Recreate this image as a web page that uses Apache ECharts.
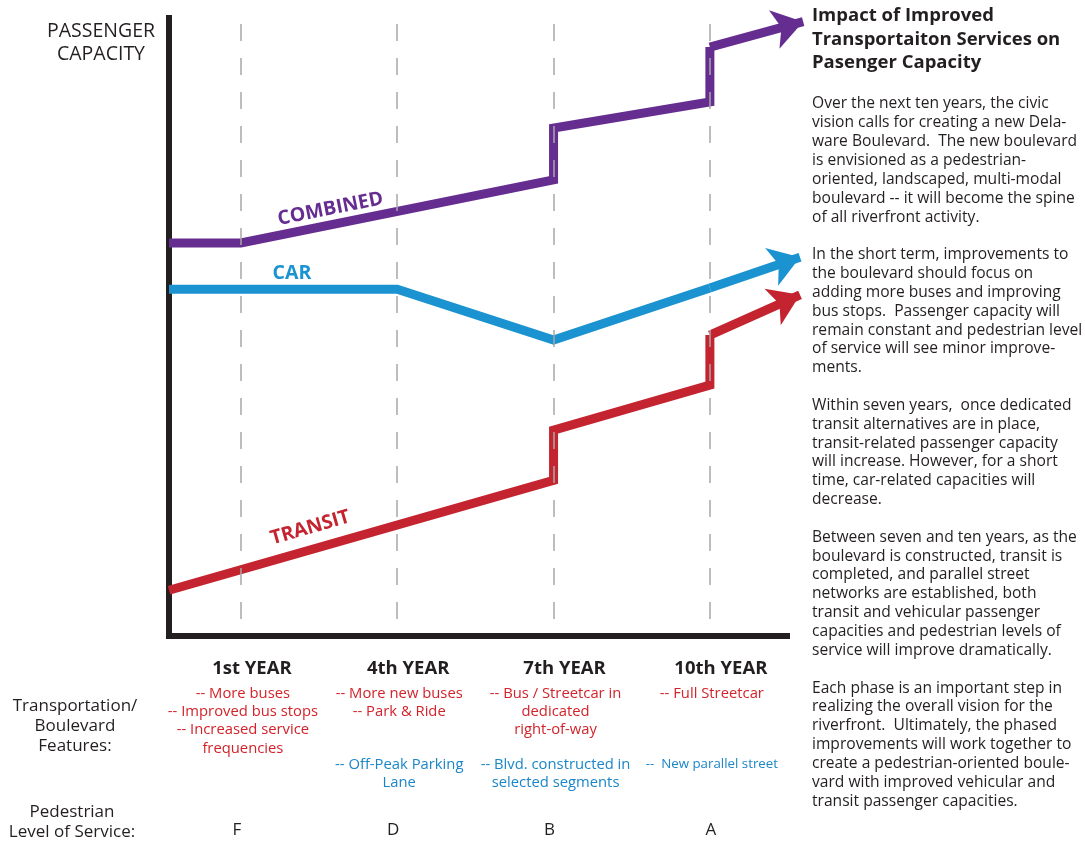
<!DOCTYPE html>
<html><head><meta charset="utf-8">
<script src="https://cdn.jsdelivr.net/npm/echarts@6/dist/echarts.min.js"></script>
<style>html,body{margin:0;padding:0;background:#fff;}#c{width:1085px;height:843px;}</style>
</head><body><div id="c"></div>
<script>
// ---- data ----
const yearTicks = [1, 4, 7, 10];
const yearLabels = ['1st YEAR', '4th YEAR', '7th YEAR', '10th YEAR'];
const pedestrianLOS = ['F', 'D', 'B', 'A'];
const transitFeatures = [
  ['-- More buses', '-- Improved bus stops', '-- Increased service', 'frequencies'],
  ['-- More new buses', '-- Park & Ride'],
  ['-- Bus / Streetcar in', 'dedicated', 'right-of-way'],
  ['-- Full Streetcar']
];
const carFeatures = [
  [],
  ['-- Off-Peak Parking', 'Lane'],
  ['-- Blvd. constructed in', 'selected segments'],
  ['--  New parallel street']
];
const combinedX = [-0.38, 1, 7, 7, 10, 10, 11.79];
const combinedY = [63.6, 63.6, 73.8, 82.2, 86.4, 95.3, 99.4];
const carX = [-0.38, 4, 7, 10, 11.73];
const carY = [56.1, 56.1, 47.9, 56.3, 61.3];
const transitX = [-0.38, 7, 7, 10, 10, 11.73];
const transitY = [7.4, 25.2, 33.3, 40.6, 48.7, 55.2];

const titleText = 'Impact of Improved\nTransportaiton Services on\nPasenger Capacity';
const bodyText = [
  'Over the next ten years, the civic',
  'vision calls for creating a new Dela-',
  'ware Boulevard.  The new boulevard',
  'is envisioned as a pedestrian-',
  'oriented, landscaped, multi-modal',
  'boulevard -- it will become the spine',
  'of all riverfront activity.',
  '',
  'In the short term, improvements to',
  'the boulevard should focus on',
  'adding more buses and improving',
  'bus stops.  Passenger capacity will',
  'remain constant and pedestrian level',
  'of service will see minor improve-',
  'ments.',
  '',
  'Within seven years,  once dedicated',
  'transit alternatives are in place,',
  'transit-related passenger capacity',
  'will increase. However, for a short',
  'time, car-related capacities will',
  'decrease.',
  '',
  'Between seven and ten years, as the',
  'boulevard is constructed, transit is',
  'completed, and parallel street',
  'networks are established, both',
  'transit and vehicular passenger',
  'capacities and pedestrian levels of',
  'service will improve dramatically.',
  '',
  'Each phase is an important step in',
  'realizing the overall vision for the',
  'riverfront.  Ultimately, the phased',
  'improvements will work together to',
  'create a pedestrian-oriented boule-',
  'vard with improved vehicular and',
  'transit passenger capacities.'
];

// ---- styles ----
const FONT = '"Open Sans", "Noto Sans", sans-serif';
const INK = '#231f20';
const PURPLE = '#662d91';
const BLUE = '#1b93d0';
const RED = '#c4242f';
const RED_TXT = '#d2232a';
const BLUE_TXT = '#1a86c8';
const LW = 9;

function zip(xs, ys) { return xs.map((x, i) => [x, ys[i]]); }

function lineSeries(name, xs, ys, color) {
  const pts = zip(xs, ys);
  return [{
    name, type: 'line', data: pts.slice(0, -1), showSymbol: false, z: 3,
    lineStyle: { color, width: LW, join: 'miter', cap: 'butt' },
    silent: true, animation: false, clip: false
  }, {
    name: name + '-arrow', type: 'lines', coordinateSystem: 'cartesian2d',
    z: 3, silent: true, animation: false, clip: false,
    symbol: ['none', 'arrow'], symbolSize: [34, 30],
    lineStyle: { color, width: LW, opacity: 1, curveness: 0, cap: 'butt' },
    itemStyle: { color },
    data: [{ coords: pts.slice(-2) }]
  }];
}

const chart = echarts.init(document.getElementById('c'), null, { renderer: 'canvas' });
const option = {
  backgroundColor: '#fff',
  animation: false,
  grid: { left: 169, right: 298, top: 18, bottom: 207 },
  xAxis: {
    type: 'value', min: -0.38, max: 11.48,
    axisLine: { show: true, onZero: false, lineStyle: { color: INK, width: 6, cap: 'square' } },
    axisTick: { show: false },
    splitLine: { show: false },
    axisLabel: {
      customValues: yearTicks,
      formatter: v => yearLabels[yearTicks.indexOf(v)] || '',
      fontFamily: FONT, fontWeight: 'bold', fontSize: 18.5, color: INK,
      margin: 23, padding: [0, 0, 0, 22]
    }
  },
  yAxis: {
    type: 'value', min: 0, max: 100,
    axisLine: { show: true, onZero: false, lineStyle: { color: INK, width: 6, cap: 'square' } },
    axisTick: { show: false }, axisLabel: { show: false }, splitLine: { show: false }
  },
  series: [
    {
      type: 'line', data: [], z: 1, silent: true,
      markLine: {
        silent: true, animation: false, symbol: 'none',
        label: { show: false },
        lineStyle: { color: '#a8a8a8', width: 1.5, type: [17, 17], dashOffset: 17 },
        data: yearTicks.map(v => ({ xAxis: v }))
      }
    },
    ...lineSeries('COMBINED', combinedX, combinedY, PURPLE),
    ...lineSeries('CAR', carX, carY, BLUE),
    ...lineSeries('TRANSIT', transitX, transitY, RED)
  ]
};
chart.setOption(option);

const px = (x, y) => chart.convertToPixel({ gridIndex: 0 }, [x, y]);
const g = [];
function txt(x, y, text, opt) {
  g.push({ type: 'text', x, y, silent: true, style: Object.assign({
    text, fontFamily: FONT, fontSize: 14, fill: INK, align: 'center', verticalAlign: 'top'
  }, opt) });
  return g[g.length - 1];
}
// series labels
let p = px(2.72, 69.1);
txt(p[0], p[1], 'COMBINED', { fontSize: 19.5, fontWeight: 'bold', fill: PURPLE, verticalAlign: 'middle' }).rotation = 11.3 * Math.PI / 180;
p = px(1.98, 58.7);
txt(p[0], p[1], 'CAR', { fontSize: 19.5, fontWeight: 'bold', fill: BLUE, verticalAlign: 'middle' });
p = px(2.33, 17.5);
txt(p[0], p[1], 'TRANSIT', { fontSize: 19.5, fontWeight: 'bold', fill: RED, verticalAlign: 'middle' }).rotation = 16.1 * Math.PI / 180;

// axis title
txt(101, 20, 'PASSENGER\nCAPACITY', { fontSize: 19.5, lineHeight: 23 });
// row headings
txt(75, 696, 'Transportation/\nBoulevard\nFeatures:', { fontSize: 17, lineHeight: 20 });
txt(72, 801.5, 'Pedestrian\nLevel of Service:', { fontSize: 17, lineHeight: 20.5 });

yearTicks.forEach((v, i) => {
  const cx = px(v, 0)[0];
  if (transitFeatures[i].length) txt(cx + 2, 684.5, transitFeatures[i].join('\n'), { fill: RED_TXT, fontSize: 14.8, lineHeight: 18.3 });
  if (carFeatures[i].length) txt(cx + 2, 755.5, carFeatures[i].join('\n'), { fill: BLUE_TXT, lineHeight: 18.3, fontSize: i === 3 ? 13.3 : 14.8 });
  txt(cx - 4 + (i === 3 ? 5 : 0), 830, pedestrianLOS[i], { fontSize: 17, verticalAlign: 'middle' });
});

// right column
txt(812, 4, titleText, { fontSize: 18.5, fontWeight: 'bold', lineHeight: 23.5, align: 'left' });
txt(812, 94.6, bodyText.join('\n'), { fontSize: 15.6, lineHeight: 18.84, align: 'left' });

chart.setOption({ graphic: { elements: g } });
</script></body></html>
